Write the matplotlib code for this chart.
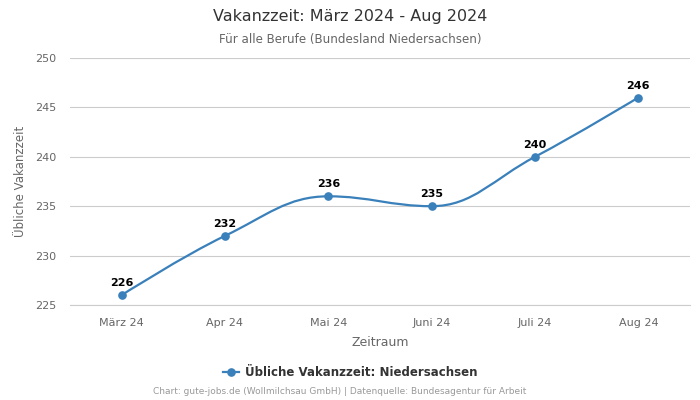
import matplotlib
matplotlib.use("Agg")
import matplotlib.pyplot as plt
from matplotlib.path import Path
from matplotlib.patches import PathPatch
from matplotlib.lines import Line2D

categories = ["März 24", "Apr 24", "Mai 24", "Juni 24", "Juli 24", "Aug 24"]
values = [226, 232, 236, 235, 240, 246]
series_name = "Übliche Vakanzzeit: Niedersachsen"
yticks = [225, 230, 235, 240, 245, 250]

plt.rcParams['font.family'] = ['DejaVu Sans']
color = "#3a80ba"

fig = plt.figure(figsize=(7, 4), dpi=100)
ax = fig.add_axes([70/700, 1-305/400, 620/700, 247/400])

xs = list(range(len(values)))

# Highcharts-like spline control points
def controls(i):
    smoothing = 1.5
    denom = smoothing + 1
    px, py = xs[i], values[i]
    if i == 0 or i == len(values) - 1:
        return (px, py), (px, py)
    lx, ly = xs[i-1], values[i-1]
    nx, ny = xs[i+1], values[i+1]
    lcx = (smoothing*px + lx)/denom
    lcy = (smoothing*py + ly)/denom
    rcx = (smoothing*px + nx)/denom
    rcy = (smoothing*py + ny)/denom
    corr = ((rcy - lcy)*(rcx - px))/(rcx - lcx) + py - rcy
    lcy += corr
    rcy += corr
    if lcy > max(ly, py):
        lcy = max(ly, py); rcy = 2*py - lcy
    elif lcy < min(ly, py):
        lcy = min(ly, py); rcy = 2*py - lcy
    if rcy > max(py, ny):
        rcy = max(py, ny); lcy = 2*py - rcy
    elif rcy < min(py, ny):
        rcy = min(py, ny); lcy = 2*py - rcy
    return (lcx, lcy), (rcx, rcy)

verts = [(xs[0], values[0])]
codes = [Path.MOVETO]
for i in range(1, len(values)):
    _, rc = controls(i-1)
    lc, _ = controls(i)
    verts += [rc, lc, (xs[i], values[i])]
    codes += [Path.CURVE4]*3
ax.add_patch(PathPatch(Path(verts, codes), facecolor="none", edgecolor=color, lw=1.6, zorder=3))
ax.plot(xs, values, linestyle="none", marker="o", ms=5.2, color=color, zorder=4)

for x, v in zip(xs, values):
    ax.annotate(str(v), (x, v), xytext=(0, 5), textcoords="offset points",
                ha="center", va="bottom", fontsize=8, fontweight="bold", color="#000000", zorder=5)

ax.set_xlim(-0.5, len(values)-0.5)
ax.set_ylim(225, 250)
ax.set_yticks(yticks)
ax.set_xticks(xs)
ax.set_xticklabels(categories)
ax.tick_params(axis="both", length=0, labelsize=8, labelcolor="#666666")
ax.tick_params(axis="y", pad=10)
ax.tick_params(axis="x", pad=9)
ax.grid(axis="y", color="#cccccc", lw=0.8)
ax.set_axisbelow(True)
for s in ["top", "right", "left"]:
    ax.spines[s].set_visible(False)
ax.spines["bottom"].set_color("#cccccc")
ax.spines["bottom"].set_linewidth(0.8)

ax.set_xlabel("Zeitraum", fontsize=9, color="#666666", labelpad=6)
ax.set_ylabel("Übliche Vakanzzeit", fontsize=8.5, color="#666666", labelpad=6)

fig.text(0.5, 1-17/400, "Vakanzzeit: März 2024 - Aug 2024", ha="center", va="center", fontsize=11.5, color="#333333")
fig.text(0.5, 1-39/400, "Für alle Berufe (Bundesland Niedersachsen)", ha="center", va="center", fontsize=8.6, color="#666666")

handle = Line2D([], [], color=color, marker="o", ms=5.2, lw=1.6)
fig.legend([handle], [series_name], loc="center", bbox_to_anchor=(0.5, 1-373/400), frameon=False,
           prop={"size": 8.5, "weight": "bold"}, labelcolor="#333333", handlelength=1.4, handletextpad=0.5)
fig.text(340/700, 1-392/400, "Chart: gute-jobs.de (Wollmilchsau GmbH) | Datenquelle: Bundesagentur für Arbeit",
         ha="center", va="center", fontsize=6.5, color="#999999")

fig.savefig("out.png", dpi=100)
